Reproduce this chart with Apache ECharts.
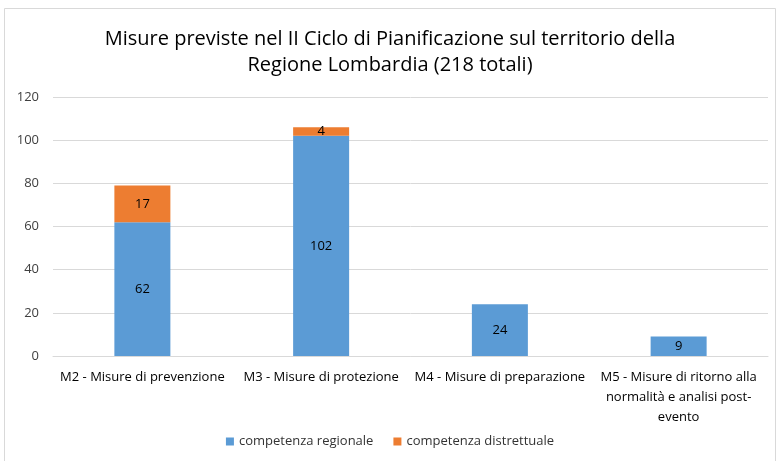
<!DOCTYPE html>
<html>
<head>
<meta charset="utf-8">
<script src="https://cdn.jsdelivr.net/npm/echarts@6/dist/echarts.min.js"></script>
<style>
  html, body { margin: 0; padding: 0; background: #fff; }
  #chart { width: 780px; height: 461px; }
</style>
</head>
<body>
<div id="chart"></div>
<script>
var categories = [
  'M2 - Misure di prevenzione',
  'M3 - Misure di protezione',
  'M4 - Misure di preparazione',
  'M5 - Misure di ritorno alla\nnormalità e analisi post-\nevento'
];
var regionale = [62, 102, 24, 9];
var distrettuale = [17, 4, null, null];
var seriesNames = ['competenza regionale', 'competenza distrettuale'];
var yTicks = { min: 0, max: 120, interval: 20 };

var font = "'Open Sans', sans-serif";
var chart = echarts.init(document.getElementById('chart'));
chart.setOption({
  animation: false,
  color: ['#5b9bd5', '#ed7d31'],
  textStyle: { fontFamily: font },
  graphic: [{
    type: 'rect',
    shape: { x: 4.5, y: 8.5, width: 771, height: 470 },
    style: { fill: 'none', stroke: '#d9d9d9', lineWidth: 1 },
    silent: true
  }],
  title: {
    text: 'Misure previste nel II Ciclo di Pianificazione sul territorio della\nRegione Lombardia (218 totali)',
    left: 'center',
    top: 21,
    textStyle: { fontFamily: font, fontSize: 20, fontWeight: 'normal', color: '#000', lineHeight: 26 }
  },
  legend: {
    bottom: 8,
    left: 'center',
    itemWidth: 8,
    itemHeight: 8,
    itemGap: 20,
    icon: 'rect',
    textStyle: { fontFamily: font, fontSize: 13, color: '#333' },
    data: seriesNames
  },
  grid: { left: 53, right: 12, top: 97, bottom: 105 },
  xAxis: {
    type: 'category',
    data: categories,
    axisLine: { lineStyle: { color: '#d9d9d9' } },
    axisTick: { show: false },
    axisLabel: { fontFamily: font, fontSize: 13, color: '#000', lineHeight: 20, margin: 11, interval: 0 }
  },
  yAxis: {
    type: 'value',
    min: yTicks.min,
    max: yTicks.max,
    interval: yTicks.interval,
    axisLine: { show: false },
    axisTick: { show: false },
    axisLabel: { fontFamily: font, fontSize: 13, color: '#404040', margin: 14 },
    splitLine: { lineStyle: { color: '#d9d9d9' } }
  },
  series: [
    {
      name: seriesNames[0],
      type: 'bar',
      stack: 'tot',
      barWidth: 56,
      data: regionale,
      label: { show: true, position: 'inside', color: '#000', fontSize: 13, fontFamily: font }
    },
    {
      name: seriesNames[1],
      type: 'bar',
      stack: 'tot',
      barWidth: 56,
      data: distrettuale,
      label: { show: true, position: 'inside', color: '#000', fontSize: 13, fontFamily: font }
    }
  ]
});
</script>
</body>
</html>
